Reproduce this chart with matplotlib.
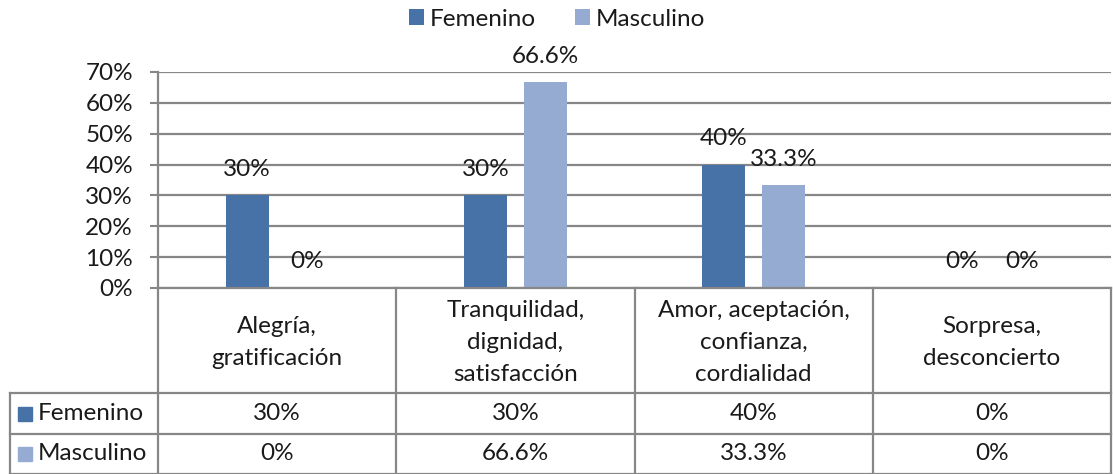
import matplotlib
matplotlib.use("Agg")
import matplotlib.pyplot as plt
import numpy as np

categories = ["Alegría,\ngratificación",
              "Tranquilidad,\ndignidad,\nsatisfacción",
              "Amor, aceptación,\nconfianza,\ncordialidad",
              "Sorpresa,\ndesconcierto"]
series_names = ["Femenino", "Masculino"]
femenino = [30, 30, 40, 0]
masculino = [0, 66.6, 33.3, 0]
fem_labels = ["30%", "30%", "40%", "0%"]
masc_labels = ["0%", "66.6%", "33.3%", "0%"]
yticks = [0, 10, 20, 30, 40, 50, 60, 70]

colors = ["#4672A8", "#95ABD2"]
grid_col = "#878787"
txt_col = "#1A1A1A"
FONT = ["Lato", "DejaVu Sans"]
plt.rcParams["font.family"] = FONT
FS = 17.5

W, H = 1113, 474
fig = plt.figure(figsize=(W / 100, H / 100), dpi=100)

# main axes: pixel box x 158..1111, y 72..288
ax = fig.add_axes([158 / W, 1 - 288 / H, (1111 - 158) / W, (288 - 72) / H])
x = np.arange(len(categories))
bw = 0.18
off = 0.126
ax.bar(x - off, femenino, bw, color=colors[0], zorder=3, label=series_names[0])
ax.bar(x + off, masculino, bw, color=colors[1], zorder=3, label=series_names[1])
ax.set_xlim(-0.5, len(categories) - 0.5)
ax.set_ylim(0, 70)
ax.set_yticks(yticks)
ax.set_yticklabels([f"{t}%" for t in yticks], fontsize=FS, color=txt_col)
ax.tick_params(axis="y", length=6, width=1.5, color=grid_col, pad=12)
ax.set_xticks([])
for t in yticks:
    ax.axhline(t, color=grid_col, lw=1.6, zorder=1)
for s in ["top", "right", "bottom"]:
    ax.spines[s].set_visible(False)
ax.spines["left"].set_color(grid_col)
ax.spines["left"].set_linewidth(1.6)

# data labels
for xi, v, lab in zip(x - off, femenino, fem_labels):
    ax.annotate(lab, (xi, v), xytext=(0, 26), textcoords="offset pixels",
                ha="center", va="center", fontsize=FS, color=txt_col, zorder=5)
for xi, v, lab in zip(x + off, masculino, masc_labels):
    ax.annotate(lab, (xi, v), xytext=(0, 26), textcoords="offset pixels",
                ha="center", va="center", fontsize=FS, color=txt_col, zorder=5)

# legend
leg = fig.legend(loc="center", bbox_to_anchor=(557 / W, 1 - 19 / H), ncol=2,
                 frameon=False, fontsize=FS, handlelength=0.62, handleheight=0.62,
                 handletextpad=0.25, columnspacing=1.6)
for t in leg.get_texts():
    t.set_color(txt_col)

# data table drawn in an overlay axes (pixel coordinates)
tab = fig.add_axes([0, 0, 1, 1])
tab.set_xlim(0, W)
tab.set_ylim(H, 0)
tab.axis("off")
fig.canvas.draw()
edges_data = np.arange(len(categories) + 1) - 0.5
edges_px = [ax.transData.transform((e, 0))[0] for e in edges_data]
y_top = H - ax.transData.transform((0, 0))[1]
row_y = [y_top, 393, 434, 474]
left_x = 10
lw = 1.6
for e in edges_px:
    tab.plot([e, e], [row_y[0], row_y[-1]], color=grid_col, lw=lw)
tab.plot([left_x, left_x], [row_y[1], row_y[-1]], color=grid_col, lw=lw)
tab.plot([edges_px[0], edges_px[-1]], [row_y[0], row_y[0]], color=grid_col, lw=lw)
for r in row_y[1:3]:
    tab.plot([left_x, edges_px[-1]], [r, r], color=grid_col, lw=lw)
tab.plot([left_x, edges_px[-1]], [row_y[-1] - 0.5, row_y[-1] - 0.5], color=grid_col, lw=lw)

centers = [(edges_px[i] + edges_px[i + 1]) / 2 for i in range(len(categories))]
for c, cat in zip(centers, categories):
    tab.text(c, (row_y[0] + row_y[1]) / 2 + 2, cat, ha="center", va="center",
             fontsize=FS, color=txt_col, linespacing=1.62)
for ri, (labs, col, name) in enumerate(zip([fem_labels, masc_labels], colors, series_names)):
    yc = (row_y[ri + 1] + row_y[ri + 2]) / 2
    for c, lab in zip(centers, labs):
        tab.text(c, yc, lab, ha="center", va="center", fontsize=FS, color=txt_col)
    tab.add_patch(plt.Rectangle((18, yc - 7), 14, 14, color=col))
    tab.text(38, yc, name, ha="left", va="center", fontsize=FS, color=txt_col)

fig.savefig("out.png", dpi=100)
